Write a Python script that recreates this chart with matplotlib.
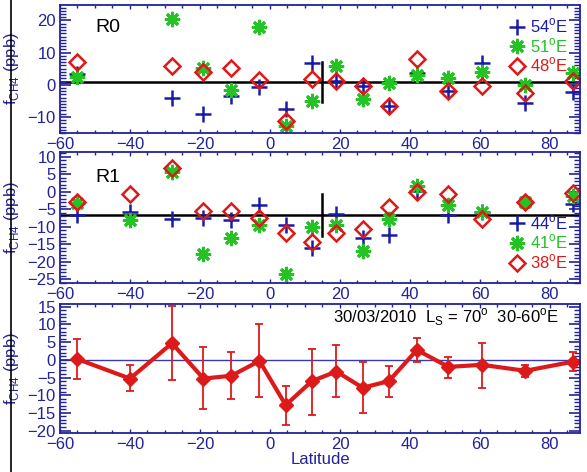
import numpy as np
import matplotlib
matplotlib.use("Agg")
import matplotlib.pyplot as plt
from matplotlib.ticker import MultipleLocator
from matplotlib.lines import Line2D

plt.rcParams["font.family"] = ["Liberation Sans", "DejaVu Sans"]
plt.rcParams["mathtext.fontset"] = "custom"
plt.rcParams["mathtext.rm"] = "Liberation Sans"

# latitude bins
lat = [-55, -28, -19, -11, -3, 4.5, 12, 19, 26.5, 34, 42, 51, 60.5, 73, 86.7]
lat_r1 = [-55, -40, -28, -19, -11, -3, 4.5, 12, 19, 26.5, 34, 42, 51, 60.5, 73, 86.7]

# R0 (ppb)
r0_54e = [3.5, -4.1, -9.1, -3.4, -0.8, -7.4, 6.7, 1.3, -0.5, -6.5, 3.8, -1.9, 6.7, -5.7, -2.3]
r0_51e = [2.3, 20.5, 5.2, -1.6, 17.9, -12.9, -5.2, 5.9, -4.3, 0.7, 2.9, 2.1, 4.1, -0.2, 3.6]
r0_48e = [7.0, 5.9, 3.9, 5.2, 1.4, -11.4, 1.9, 1.3, -0.3, -6.5, 8.0, -1.9, -0.3, -2.6, 1.3]
r0_mean = 0.8

# R1 (ppb)
r1_44e = [-6.6, -5.8, -7.9, -7.5, -8.2, -3.9, -9.6, -15.9, -6.3, -13.3, -12.4, 0.3, -6.6, -5.8, -3.0, -3.5]
r1_41e = [-3.2, -8.2, 5.6, -17.8, -13.1, -9.6, -23.4, -10.0, -9.4, -16.9, -7.7, 1.5, -3.7, -5.8, -3.0, -1.1]
r1_38e = [-2.8, -0.7, 6.8, -5.6, -5.6, -7.5, -11.7, -14.2, -11.9, -10.5, -4.4, 0.0, -0.7, -7.9, -3.0, -0.4]
r1_mean = -6.6

# vertical marker bars (lat, low, high)
r0_bar = (15, -5.5, 7)
r1_bar = (15, -12.6, -0.7)

# combined 30-60E
comb = [0.2, -5.3, 4.7, -5.3, -4.5, -0.3, -12.8, -6.0, -3.3, -7.9, -6.0, 2.8, -2.0, -1.4, -3.1, -0.5]
comb_hi = [5.9, -1.4, 15.1, 3.5, 2.1, 10.0, -7.3, 3.1, 4.2, -0.7, -1.7, 6.3, 0.9, 4.8, -1.4, 2.3]
comb_lo = [-5.4, -8.8, -5.6, -14.0, -11.0, -10.4, -18.4, -15.6, -10.5, -14.9, -10.5, -0.7, -5.1, -7.9, -4.9, -3.1]

AX = "#22229a"
BLUE = "#1a1aa8"
GREEN = "#22c322"
RED = "#dd1a1a"

fig = plt.figure(figsize=(5.87, 4.72), dpi=100)
L, R = 60 / 587, 580 / 587
H = 472
rects = [(5, 133), (152, 283), (304, 433)]
axes = []
for top, bot in rects:
    axes.append(fig.add_axes([L, 1 - bot / H, R - L, (bot - top) / H]))

fig.add_artist(Line2D([11 / 587, 11 / 587], [0, 1], color="black", lw=1.2))

star = (8, 2, 0)


def style(ax, ymaj, ymin_step):
    ax.set_xlim(-60, 88.6)
    ax.xaxis.set_major_locator(MultipleLocator(20))
    ax.xaxis.set_minor_locator(MultipleLocator(5))
    ax.yaxis.set_major_locator(MultipleLocator(ymaj))
    ax.yaxis.set_minor_locator(MultipleLocator(ymin_step))
    for s in ax.spines.values():
        s.set_color(AX)
        s.set_linewidth(1.3)
    ax.tick_params(axis="both", which="both", direction="in", colors=AX,
                   labelcolor=AX, labelsize=12, top=True, right=True, pad=3)
    ax.tick_params(axis="y", which="major", length=8, width=1.2)
    ax.tick_params(axis="y", which="minor", length=4, width=1)
    ax.tick_params(axis="x", which="major", length=3, width=1)
    ax.tick_params(axis="x", which="minor", length=2, width=1)
    ax.set_ylabel(r"f$_{\rm CH4}$ (ppb)", color=AX, fontsize=12, labelpad=1)
    ax.yaxis.set_label_coords(-0.075, 0.5)


def deg(v):
    return v + r"$^{\rm o}$E"


# panel R0
ax = axes[0]
ax.axhline(r0_mean, color="black", lw=1.8, zorder=1)
ax.plot([r0_bar[0]] * 2, r0_bar[1:], color="black", lw=1.8)
ax.plot(lat, r0_54e, "+", color=BLUE, ms=11, mew=1.8, label=deg("54"))
ax.plot(lat, r0_51e, ls="none", marker=star, color=GREEN, ms=11, mew=2, label=deg("51"))
ax.plot(lat, r0_48e, "D", mfc="none", mec=RED, ms=8, mew=1.8, label=deg("48"))
ax.set_ylim(-15, 24.8)
style(ax, 10, 1)
ax.text(-50, 16.5, "R0", fontsize=14, color="black")
ax.legend(loc="upper right", frameon=False, fontsize=12, handlelength=1,
          handletextpad=0.3, labelspacing=0.05, borderaxespad=0.3,
          labelcolor=[BLUE, GREEN, RED])

# panel R1
ax = axes[1]
ax.axhline(r1_mean, color="black", lw=1.8, zorder=1)
ax.plot([r1_bar[0]] * 2, r1_bar[1:], color="black", lw=1.8)
ax.plot(lat_r1, r1_44e, "+", color=BLUE, ms=11, mew=1.8, label=deg("44"))
ax.plot(lat_r1, r1_41e, ls="none", marker=star, color=GREEN, ms=11, mew=2, label=deg("41"))
ax.plot(lat_r1, r1_38e, "D", mfc="none", mec=RED, ms=8, mew=1.8, label=deg("38"))
ax.set_ylim(-26, 11.3)
style(ax, 5, 1)
ax.text(-50, 2.8, "R1", fontsize=14, color="black")
ax.legend(loc="lower right", frameon=False, fontsize=12, handlelength=1,
          handletextpad=0.3, labelspacing=0.05, borderaxespad=0.3,
          labelcolor=[BLUE, GREEN, RED])

# panel combined
ax = axes[2]
ax.axhline(0, color="#3a3ab0", lw=1, zorder=1)
c = np.array(comb)
yerr = [c - np.array(comb_lo), np.array(comb_hi) - c]
ax.errorbar(lat_r1, comb, yerr=yerr, color=RED, lw=3, marker="D", ms=7,
            ecolor=RED, elinewidth=1.3, capsize=3, capthick=1.3)
ax.set_ylim(-20.7, 15.8)
style(ax, 5, 1)
ax.text(82.5, 10.5, r"30/03/2010  L$_{\rm S}$ = 70$^{\rm o}$  30-60$^{\rm o}$E",
        fontsize=12, color="black", ha="right")
ax.set_xlabel("Latitude", color=AX, fontsize=12, labelpad=0)

fig.savefig("out.png", dpi=100)
